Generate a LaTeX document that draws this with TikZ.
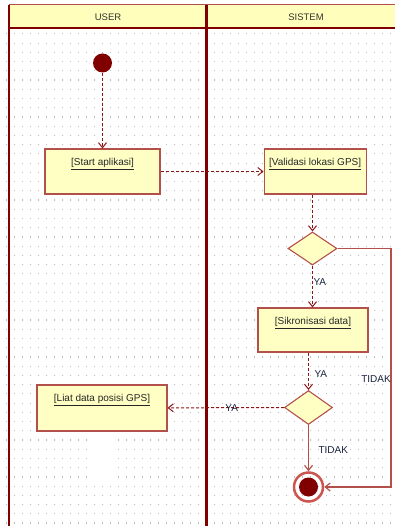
\documentclass[tikz,border=0pt]{standalone}
\usepackage{fontspec}
\setmainfont{Liberation Sans}
\usetikzlibrary{arrows.meta, positioning, shapes.geometric}

\definecolor{lanered}{RGB}{128,0,0}
\definecolor{flowred}{RGB}{140,20,20}
\definecolor{boxred}{RGB}{180,80,75}
\definecolor{noteyellow}{RGB}{255,255,196}
\definecolor{headyellow}{RGB}{255,255,187}
\definecolor{ringred}{RGB}{205,85,80}
\definecolor{labelblue}{RGB}{25,35,60}
\definecolor{dotgrey}{RGB}{190,190,190}

\begin{document}
\begin{tikzpicture}[
      x=1pt, y=-1pt, font=\fontsize{10}{12}\selectfont, >={Straight Barb[length=5pt, width=8pt]},
      lane/.style={draw=lanered, line width=3pt},
      actbox/.style={draw=boxred, fill=noteyellow, line width=1.1pt, inner xsep=2pt, inner ysep=0pt,
        text height=16.5pt, text depth=28.5pt, text=black!85},
      decision/.style={diamond, draw=boxred, fill=noteyellow, line width=1.1pt, inner sep=0pt,
        minimum width=49pt, minimum height=33pt},
      flow/.style={->, draw=flowred, line width=1pt, dash pattern=on 3pt off 2pt},
      tidakline/.style={->, draw=boxred, line width=1.2pt},
      guard/.style={text=labelblue, inner sep=0.5pt},
      lanehead/.style={font=\fontsize{9.5}{11}\selectfont, text=black!80},
    ]
      \useasboundingbox (0,0) rectangle (395,526);

      % grid of the drawing sheet
      \foreach \gx in {6,14,...,390}{
        \foreach \gy in {0,...,53}{
          \fill[dotgrey] (\gx,33.3+\gy*9.23) rectangle ++(1.2,1.2);
        }
      }

      % swimlanes
      \fill[headyellow] (9,5) rectangle (395,28);
      \draw[boxred, line width=1pt] (9,5) -- (395,5);
      \draw[lanered, line width=2pt] (9,28) -- (395,28);
      \draw[lanered, line width=2pt] (9,5) -- (9,526);
      \draw[lane] (206.5,5) -- (206.5,526);
      \node[lanehead] (userhead) at (108,17) {USER};
      \node[lanehead] (sistemhead) at (306,17) {SISTEM};

      % activities
      \node[circle, fill=lanered, minimum size=19pt, inner sep=0pt] (start) at (102.5,63) {};
      \node[actbox, minimum width=115pt] (startapp) at (102.5,171.5) {\underline{[Start aplikasi]}};
      \node[actbox, minimum width=102pt, right=103pt of startapp] (validasi) {\underline{[Validasi lokasi GPS]}};
      \node[decision] (dec1) at (312.5,248.5) {};
      \node[actbox, minimum width=110pt, text depth=27.5pt] (sync) at (313,330) {\underline{[Sikronisasi data]}};
      \node[decision, minimum width=48pt, minimum height=34pt] (dec2) at (308.5,407.5) {};
      \node[actbox, minimum width=130pt, text depth=29.5pt] (liat) at (102,408) {\underline{[Liat data posisi GPS]}};
      \fill[white] (88,431.5) rectangle (113,480);
      \node[circle, draw=ringred, line width=2.5pt, minimum size=29pt, inner sep=0pt,
        path picture={\fill[lanered] (path picture bounding box.center) circle (9.5pt);}] (finish) at (308.5,487) {};

      \coordinate (tidakturn) at (391,487);

      % flows
      \draw[flow] (start) -- (startapp);
      \draw[flow] (startapp) -- (validasi);
      \draw[flow] (validasi.south -| dec1.north) -- (dec1);
      \draw[flow] (dec1) -- (dec1.south |- sync.north) node[guard, pos=0.4, right=0pt] {YA};
      \draw[flow] (sync.south -| dec2.north) -- (dec2) node[guard, pos=0.57, right=5pt] {YA};
      \draw[flow] (dec2) -- (liat) node[guard, pos=0.45] {YA};
      \draw[tidakline] (dec2) -- (finish) node[guard, pos=0.55, right=9pt] {TIDAK};
      \draw[tidakline] (dec1.east) -| (tidakturn) -- (finish);
      \node[guard] (tidaklabel) at (376,379) {TIDAK};
    \end{tikzpicture}
\end{document}
